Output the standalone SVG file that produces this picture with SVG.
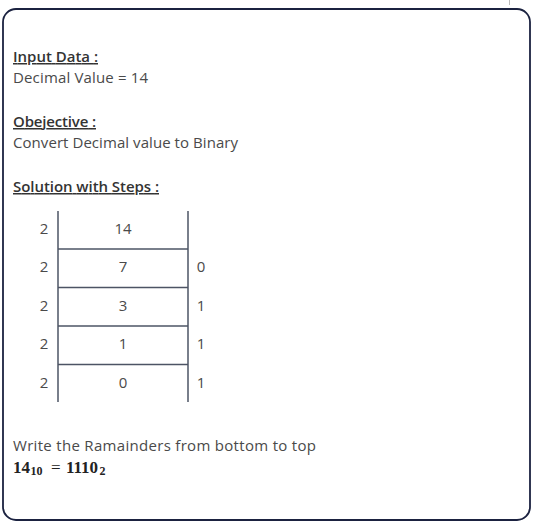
<svg xmlns="http://www.w3.org/2000/svg" width="536" height="526" viewBox="0 0 536 526">
<style>
.t{font-family:"Open Sans","Liberation Sans",sans-serif;font-size:15px;fill:#4a4a4a}
.h{font-family:"Open Sans","Liberation Sans",sans-serif;font-size:15px;fill:#333;font-weight:600;text-decoration:underline}
.c{text-anchor:middle}
.ln{stroke:#4d5464;stroke-width:1.5;fill:none}
.m{font-family:"Liberation Serif",serif;fill:#222}
</style>
<rect width="536" height="526" fill="#fff"/>
<line x1="509.5" y1="0" x2="509.5" y2="5" stroke="#bbb" stroke-width="1"/>
<rect x="3" y="9" width="527" height="511" rx="13" fill="#fff" stroke="#1b2240" stroke-width="1.8"/>
<g id="input">
<text class="h" x="13" y="62" textLength="85">Input Data :</text>
<text class="t" x="13" y="83" textLength="135">Decimal Value = 14</text>
</g>
<g id="objective">
<text class="h" x="13" y="127" textLength="83">Obejective :</text>
<text class="t" x="13" y="148" textLength="225">Convert Decimal value to Binary</text>
</g>
<g id="solution">
<text class="h" x="13" y="192" textLength="146">Solution with Steps :</text>
</g>
<g id="table">
<line class="ln" x1="58" y1="211" x2="58" y2="402"/>
<line class="ln" x1="188" y1="211" x2="188" y2="402"/>
<line class="ln" x1="58" y1="249" x2="188" y2="249"/>
<line class="ln" x1="58" y1="287.5" x2="188" y2="287.5"/>
<line class="ln" x1="58" y1="326" x2="188" y2="326"/>
<line class="ln" x1="58" y1="364.5" x2="188" y2="364.5"/>
<text class="t c" x="44" y="234">2</text>
<text class="t c" x="44" y="272">2</text>
<text class="t c" x="44" y="311">2</text>
<text class="t c" x="44" y="349">2</text>
<text class="t c" x="44" y="388">2</text>
<text class="t c" x="123" y="234">14</text>
<text class="t c" x="123" y="272">7</text>
<text class="t c" x="123" y="311">3</text>
<text class="t c" x="123" y="349">1</text>
<text class="t c" x="123" y="388">0</text>
<text class="t c" x="201" y="272">0</text>
<text class="t c" x="201" y="311">1</text>
<text class="t c" x="201" y="349">1</text>
<text class="t c" x="201" y="388">1</text>
</g>
<g id="result">
<text class="t" x="13" y="451" textLength="303">Write the Ramainders from bottom to top</text>
<text class="m" y="473" font-size="17" font-weight="bold"><tspan x="13">14</tspan><tspan x="30.5" dy="2" font-size="12">10</tspan><tspan x="51" dy="-2" font-weight="normal">=</tspan><tspan x="66">1110</tspan><tspan x="99.5" dy="2" font-size="12">2</tspan></text>
</g>
</svg>
